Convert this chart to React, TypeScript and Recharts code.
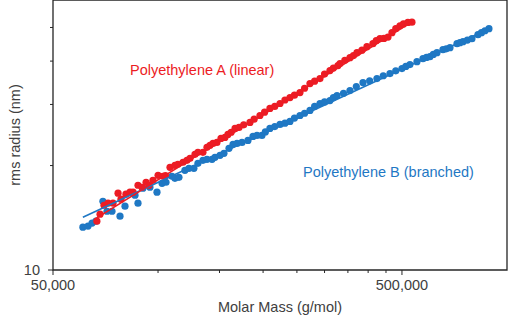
import React from 'react';
import { ScatterChart, Scatter, XAxis, YAxis, ReferenceArea } from 'recharts';

// ---- data (molar mass in g/mol, rms radius in nm) ----
const redMass = [
  66800, 68200, 70000, 71900, 74300, 76800, 78300, 80900, 83100, 84800,
  87600, 89900, 92400, 94200, 96700, 100000, 103300, 105000, 108200, 111800,
  114000, 117900, 121000, 123500, 127600, 130100, 134500, 138100, 140900, 143700,
  147500, 151500, 155500, 158600, 162000, 166200, 170600, 176000, 183400, 188500,
  195900, 202000, 209200, 216000, 223600, 231000, 238800, 246000, 255100, 263000,
  272500, 281000, 291100, 300000, 310900, 318000, 327800, 332200, 343000, 354800,
  363000, 371600, 384000, 396800, 412800, 422000, 432500, 444000, 456000, 468100,
  480000, 493400, 505000, 520000, 534000,
];
const redRadius = [
  13.83, 14.48, 15.37, 15.58, 15.58, 16.65, 16.0, 16.54, 16.76, 16.76,
  17.55, 17.32, 17.9, 17.55, 18.14, 18.75, 18.63, 18.7, 19.77, 20.03,
  20.17, 20.44, 20.71, 20.98, 21.54, 21.83, 21.83, 22.57, 22.87, 23.17,
  23.32, 23.95, 24.11, 24.59, 24.95, 25.59, 25.76, 26.2, 26.62, 27.2,
  27.88, 28.5, 29.21, 29.6, 30.19, 30.9, 31.41, 31.9, 32.46, 33.4,
  34.46, 35.0, 35.62, 36.7, 37.56, 38.2, 38.82, 39.34, 40.2, 40.93,
  41.5, 42.3, 43.0, 44.01, 44.89, 45.8, 46.42, 46.5, 46.9, 48.29,
  49.6, 50.58, 51.2, 51.7, 51.8,
];
const blueMass = [
  60900, 63000, 64700, 66400, 69500, 71400, 73800, 77800, 80400, 85900,
  87600, 90500, 94800, 99300, 102700, 105400, 109600, 111800, 114800, 119400,
  122600, 126700, 130100, 134500, 138100, 142800, 145600, 150500, 154500, 159700,
  164000, 168400, 174000, 181000, 187100, 192100, 198500, 203000, 209200, 216000,
  223600, 231000, 238800, 246000, 255100, 263000, 272500, 281000, 291100, 300000,
  310900, 318000, 325700, 340000, 354800, 370000, 386600, 404000, 423900, 442000,
  462000, 480000, 500000, 513000, 527000, 552000, 574300, 588000, 601400, 615000,
  630000, 655400, 670000, 686500, 718900, 733000, 748100, 770000, 793600, 825700,
  845000, 864600, 887800,
];
const blueRadius = [
  13.29, 13.38, 13.65, 13.83, 15.78, 14.77, 14.77, 14.29, 15.27, 16.43,
  15.58, 17.21, 17.32, 16.76, 17.78, 17.9, 18.63, 18.38, 18.5, 19.38,
  19.64, 19.64, 20.3, 20.71, 20.84, 20.84, 21.12, 21.41, 21.69, 22.42,
  23.02, 23.17, 23.32, 23.63, 24.27, 24.43, 24.43, 25.0, 25.59, 25.9,
  26.27, 26.5, 26.8, 27.4, 27.88, 28.3, 28.83, 29.6, 30.19, 30.5,
  30.79, 31.4, 31.83, 32.3, 32.89, 33.8, 34.69, 35.1, 35.62, 36.3,
  36.82, 37.5, 38.06, 38.6, 39.08, 39.86, 40.66, 41.0, 41.2, 41.8,
  42.3, 43.15, 43.4, 43.72, 44.89, 45.2, 45.5, 46.0, 46.42, 47.66,
  48.3, 48.93, 49.59,
];
const redFitMass = [65900, 534000];
const redFitRadius = [14.01, 51.95];
const blueFitMass = [60900, 887800];
const blueFitRadius = [14.2, 49.6];

const xTicks = [50000, 100000, 150000, 200000, 250000, 300000, 350000, 400000, 450000, 500000];
const xLabeledTicks = [50000, 500000];
const yTicks = [10, 20, 30, 40, 50];
const yLabeledTicks = [10];

const seriesAName = 'Polyethylene A (linear)';
const seriesBName = 'Polyethylene B (branched)';
const xTitle = 'Molar Mass (g/mol)';
const yTitle = 'rms radius (nm)';

// ---- styles ----
const RED = '#ec1c24';
const BLUE = '#1f78c4';
const AXIS = '#262626';
const TEXT = '#404040';
const FONT = '"Liberation Sans", Arial, sans-serif';
const FS = 14.5;

const zip = (xs: number[], ys: number[]) => xs.map((m, i) => ({ m, r: ys[i] }));
const redData = zip(redMass, redRadius);
const blueData = zip(blueMass, blueRadius);
const redFit = zip(redFitMass, redFitRadius);
const blueFit = zip(blueFitMass, blueFitRadius);

const fmt = (v: number) => v.toLocaleString('en-US');

const XTick = (props: any) => {
  const { x, y, payload } = props;
  const major = xLabeledTicks.includes(payload.value);
  return (
    <g>
      <line x1={x} x2={x} y1={y} y2={y + (major ? 5 : 3)} stroke={AXIS} strokeWidth={1} />
      {major && (
        <text x={x} y={y + 20} textAnchor="middle" fill={TEXT} fontSize={FS} fontFamily={FONT}>
          {fmt(payload.value)}
        </text>
      )}
    </g>
  );
};

const YTick = (props: any) => {
  const { x, y, payload } = props;
  const major = yLabeledTicks.includes(payload.value);
  return (
    <g>
      <line x1={x - (major ? 5 : 3)} x2={x} y1={y} y2={y} stroke={AXIS} strokeWidth={1} />
      {major && (
        <text x={x - 13} y={y + 5} textAnchor="end" fill={TEXT} fontSize={FS} fontFamily={FONT}>
          {fmt(payload.value)}
        </text>
      )}
    </g>
  );
};

const dot = (color: string) => (p: any) => <circle cx={p.cx} cy={p.cy} r={3.6} fill={color} />;
const noDot = () => <g />;

export default function App() {
  return (
    <div style={{ position: 'absolute', left: 0, top: 0, width: 508, height: 327, background: '#fff', fontFamily: FONT }}>
      <ScatterChart width={508} height={327} margin={{ top: 0, right: 1, bottom: 0, left: 0 }}>
        <XAxis
          dataKey="m"
          type="number"
          scale="log"
          domain={[50000, 1000000]}
          ticks={xTicks}
          interval={0}
          allowDataOverflow
          height={57}
          tickSize={0}
          tickMargin={0}
          axisLine={false}
          tickLine={false}
          tick={<XTick />}
        />
        <YAxis
          dataKey="r"
          type="number"
          scale="log"
          domain={[10, 60]}
          ticks={yTicks}
          interval={0}
          allowDataOverflow
          width={53}
          tickSize={0}
          tickMargin={0}
          axisLine={false}
          tickLine={false}
          tick={<YTick />}
        />
        <ReferenceArea x1={50000} x2={1000000} y1={10} y2={60} fill="none" stroke={AXIS} strokeWidth={1.3} ifOverflow="visible" />
        <Scatter data={blueData} fill={BLUE} shape={dot(BLUE)} isAnimationActive={false} />
        <Scatter data={redData} fill={RED} shape={dot(RED)} isAnimationActive={false} />
        <Scatter data={blueFit} line={{ stroke: BLUE, strokeWidth: 1.6 }} shape={noDot} isAnimationActive={false} />
        <Scatter data={redFit} line={{ stroke: RED, strokeWidth: 1.6 }} shape={noDot} isAnimationActive={false} />
      </ScatterChart>
      <div style={{ position: 'absolute', left: 130, top: 62, fontSize: FS, lineHeight: '16px', color: RED, whiteSpace: 'nowrap' }}>
        {seriesAName}
      </div>
      <div style={{ position: 'absolute', left: 303, top: 164, fontSize: FS, lineHeight: '16px', color: BLUE, whiteSpace: 'nowrap' }}>
        {seriesBName}
      </div>
      <div style={{ position: 'absolute', left: 280, top: 299, transform: 'translateX(-50%)', fontSize: FS, lineHeight: '16px', color: TEXT, whiteSpace: 'nowrap' }}>
        {xTitle}
      </div>
      <div style={{ position: 'absolute', left: 15, top: 135, transform: 'translate(-50%, -50%) rotate(-90deg)', fontSize: FS, lineHeight: '16px', color: TEXT, whiteSpace: 'nowrap' }}>
        {yTitle}
      </div>
    </div>
  );
}
